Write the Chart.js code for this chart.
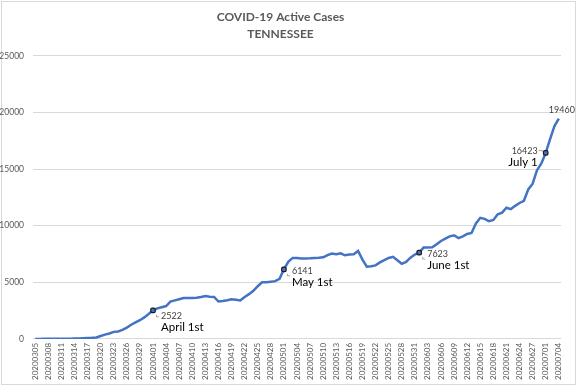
<!DOCTYPE html>
<html>
<head>
<meta charset="utf-8">
<title>COVID-19 Active Cases TENNESSEE</title>
<script src="https://cdn.jsdelivr.net/npm/chart.js@4.4.1/dist/chart.umd.min.js"></script>
<style>
  html, body { margin: 0; padding: 0; background: #fff; }
  #wrap { width: 577px; height: 386px; }
</style>
</head>
<body>
<div id="wrap"><canvas id="chart" width="577" height="386"></canvas></div>
<script>
// dates (20200630 is missing in the source data)
const dates = [
  '20200305','20200306','20200307','20200308','20200309','20200310','20200311','20200312','20200313','20200314',
  '20200315','20200316','20200317','20200318','20200319','20200320','20200321','20200322','20200323','20200324',
  '20200325','20200326','20200327','20200328','20200329','20200330','20200331','20200401','20200402','20200403',
  '20200404','20200405','20200406','20200407','20200408','20200409','20200410','20200411','20200412','20200413',
  '20200414','20200415','20200416','20200417','20200418','20200419','20200420','20200421','20200422','20200423',
  '20200424','20200425','20200426','20200427','20200428','20200429','20200430','20200501','20200502','20200503',
  '20200504','20200505','20200506','20200507','20200508','20200509','20200510','20200511','20200512','20200513',
  '20200514','20200515','20200516','20200517','20200518','20200519','20200520','20200521','20200522','20200523',
  '20200524','20200525','20200526','20200527','20200528','20200529','20200530','20200531','20200601','20200602',
  '20200603','20200604','20200605','20200606','20200607','20200608','20200609','20200610','20200611','20200612',
  '20200613','20200614','20200615','20200616','20200617','20200618','20200619','20200620','20200621','20200622',
  '20200623','20200624','20200625','20200626','20200627','20200628','20200629','20200701','20200702','20200703',
  '20200704'
];

const activeCases = [
  0, 0, 1, 1, 3, 5, 8, 12, 18, 24,
  35, 50, 70, 90, 120, 250, 380, 480, 620, 660,
  800, 1000, 1250, 1450, 1650, 1900, 2200, 2522,
  2700, 2800, 2900, 3300, 3400, 3500, 3600, 3600, 3600, 3640,
  3700, 3780, 3720, 3700, 3300, 3350, 3420, 3500, 3450, 3400,
  3700, 3950, 4250, 4650, 5000, 5000, 5050, 5100, 5300, 6141,
  6800, 7150, 7150, 7100, 7100, 7120, 7150, 7170, 7200, 7400,
  7530, 7480, 7550, 7380, 7450, 7470, 7770, 7000, 6370, 6420,
  6490, 6750, 6950, 7150, 7250, 6950, 6630, 6800, 7170, 7450, 7623,
  8060, 8060, 8080, 8350, 8650, 8850, 9050, 9150, 8900, 9050,
  9270, 9350, 10200, 10690, 10600, 10390, 10500, 11000, 11150, 11580,
  11460, 11750, 12000, 12200, 13200, 13700, 14900, 15500, 16423, 17650, 18800, 19460
];

const yMax = 25000;
const yStep = 5000;

// marked days and their captions
const noteIndex = [27, 57, 88, 117];
const noteCaption = ['April 1st', 'May 1st', 'June 1st', 'July 1'];
const lastIndex = activeCases.length - 1;

const FONT = 'Lato, "Liberation Sans", sans-serif';
const GREY = '#595959';

// white chart area with thin border, like the spreadsheet chart
const frame = {
  id: 'frame',
  beforeDraw(chart) {
    const c = chart.ctx;
    c.save();
    c.fillStyle = '#fff';
    c.fillRect(0, 0, chart.width, chart.height);
    c.strokeStyle = '#d9d9d9';
    c.lineWidth = 1;
    c.strokeRect(1.5, 1.5, chart.width - 3, chart.height - 3);
    c.restore();
  }
};

// value labels + captions next to the marked points
const notes = {
  id: 'notes',
  afterDatasetsDraw(chart) {
    const c = chart.ctx;
    const xs = chart.scales.x, ys = chart.scales.y;
    c.save();
    noteIndex.forEach((idx, k) => {
      const px = xs.getPixelForValue(idx);
      const py = ys.getPixelForValue(activeCases[idx]);
      const left = k < 3;
      c.strokeStyle = '#a6a6a6';
      c.lineWidth = 1;
      c.beginPath();
      if (left) {
        c.moveTo(px + 3.5, py + 4.5); c.lineTo(px + 3.5, py + 6.5); c.lineTo(px + 6, py + 6.5);
      } else {
        c.moveTo(px - 7, py - 2.5); c.lineTo(px - 3.5, py - 2.5); c.lineTo(px - 3.5, py - 1);
      }
      c.stroke();
      c.textBaseline = 'middle';
      c.fillStyle = '#404040';
      c.font = '9px ' + FONT;
      c.textAlign = left ? 'left' : 'right';
      const tx = left ? px + 8 : px - 8;
      const dy = k === 0 ? 6 : (k === 3 ? -2 : 2);
      c.fillText(String(activeCases[idx]), tx, py + dy);
      c.fillStyle = '#000';
      c.font = '11.5px ' + FONT;
      c.fillText(noteCaption[k], tx, py + dy + 11);
    });
    const ex = xs.getPixelForValue(lastIndex);
    const ey = ys.getPixelForValue(activeCases[lastIndex]);
    c.fillStyle = '#404040';
    c.font = '9px ' + FONT;
    c.textAlign = 'center';
    c.fillText(String(activeCases[lastIndex]), ex + 3, ey - 8);
    c.restore();
  }
};

new Chart(document.getElementById('chart').getContext('2d'), {
  type: 'line',
  data: {
    labels: dates,
    datasets: [{
      label: 'Active cases',
      data: activeCases,
      borderColor: '#4472C4',
      borderWidth: 2.5,
      tension: 0,
      pointRadius: ctx => noteIndex.includes(ctx.dataIndex) ? 2.6 : 0,
      pointHoverRadius: 0,
      pointStyle: 'rectRounded',
      pointBackgroundColor: '#4472C4',
      pointBorderColor: '#1a1a1a',
      pointBorderWidth: 1.2
    }]
  },
  options: {
    responsive: false,
    animation: false,
    layout: { padding: { left: 0, right: 16, bottom: 2 } },
    plugins: {
      legend: { display: false },
      tooltip: { enabled: false },
      title: {
        display: true,
        text: ['COVID-19 Active Cases', 'TENNESSEE'],
        color: GREY,
        font: { family: FONT, size: 12, weight: 'bold', lineHeight: 1.45 },
        padding: { top: 8, bottom: 13 }
      }
    },
    scales: {
      x: {
        type: 'category',
        offset: true,
        grid: { display: false, drawTicks: false },
        border: { display: false },
        ticks: {
          autoSkip: false,
          maxRotation: 90,
          minRotation: 90,
          padding: 4,
          color: GREY,
          font: { family: FONT, size: 8 },
          callback: (v, i) => (i % 3 === 0 ? dates[i] : '')
        }
      },
      y: {
        min: 0,
        max: yMax,
        afterFit: scale => { scale.width = 33; },
        ticks: {
          stepSize: yStep,
          padding: 9,
          color: GREY,
          font: { family: FONT, size: 8.5 },
          callback: v => String(v)
        },
        grid: { color: '#d9d9d9', drawTicks: false },
        border: { display: false }
      }
    }
  },
  plugins: [frame, notes]
});
</script>
</body>
</html>
